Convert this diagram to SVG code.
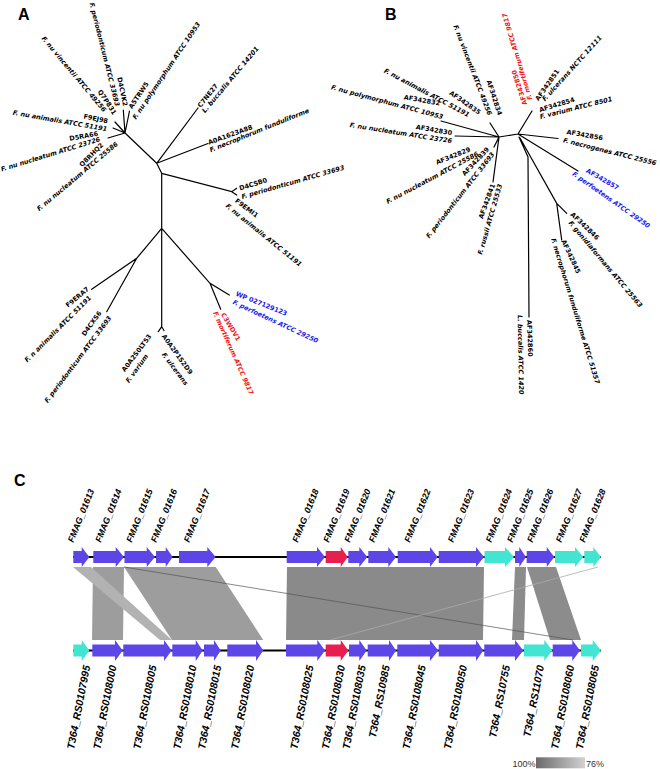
<svg xmlns="http://www.w3.org/2000/svg" width="660" height="769" viewBox="0 0 660 769">
<defs>
<linearGradient id="lg" x1="0" y1="0" x2="1" y2="0"><stop offset="0" stop-color="#6a6a6a"/><stop offset="1" stop-color="#d2d2d2"/></linearGradient>
</defs>
<style>
.e{stroke:#000;stroke-width:1.2;fill:none;stroke-linecap:round}
.t{font-family:"DejaVu Sans","Liberation Sans",sans-serif;font-size:6.5px;font-weight:bold;fill:#000}
.s{font-style:italic}
.bl{fill:#1a1af0}
.rd{fill:#f01414}
.pl{font-family:"Liberation Sans",Arial,sans-serif;font-size:16px;font-weight:bold;fill:#000}
.gt{font-family:"Liberation Sans",Arial,sans-serif;font-weight:bold;font-style:italic;fill:#000}
.top{font-size:9px}
.bot{font-size:10.5px}
.gb{fill:#5c46e8}
.gr{fill:#e81e50}
.gc{fill:#42e5d2}
.bb{stroke:#000;stroke-width:2}
.lg{font-family:"Liberation Sans",Arial,sans-serif;font-size:9px;fill:#333}
</style>
<rect width="660" height="769" fill="#fff"/>
<text class="pl" x="18" y="20">A</text>
<text class="pl" x="385" y="20">B</text>
<text class="pl" x="14" y="486">C</text>

<g id="connectors">
<path class="e" d="M125,133 L123.3,110 M125,133 L129.5,111 M125,133 L115,122 M125,133 L113,128 M125,133 L108,138 M125,133 L156.7,163.3 M156.7,163.3 L198,108 M156.7,163.3 L208,143.5 M156.7,163.3 L161.7,173.3 M161.7,173.3 L231.7,191.7 L236.7,188.3 M231.7,191.7 L236.7,195 M161.7,173.3 L161.7,228.3 M161.7,228.3 L136.7,258.3 L91.7,289.3 M136.7,258.3 L106.7,311.7 M161.7,228.3 L161.7,326.7 L158.3,331.7 M161.7,326.7 L164,330.5 M161.7,228.3 L210,283.3 L229.3,295 M210,283.3 L220.7,309.3"/>
<path class="e" d="M499,137 L518,134 M499,137 L441,121 M499,137 L490,123 M499,137 L455,136 M499,137 L494,147 M499,137 L493,182 M518,134 L532,111 M518,134 L558,138.5 M518,134 L578,171 M519,137 L528,157 L529,317 M520,138 L556.7,203.3 L566.7,213.3 M556.7,203.3 L561.7,240"/>
</g>

<g id="treeA">
<g id="a-C7NE27"><text class="t" transform="translate(199,106.7) rotate(-52)" y="2.3">C7NE27</text><text class="t s" transform="translate(203.3,111.7) rotate(-50)" y="2.3">L. buccalis ATCC 14201</text></g>
<g id="a-A0A1623A88"><text class="t" transform="translate(208.3,142.7) rotate(-20)" y="2.3">A0A1623A88</text><text class="t s" transform="translate(210,150) rotate(-22)" y="2.3">F. necrophorum funduliforme</text></g>
<g id="a-A5TRW5"><text class="t" transform="translate(130,108) rotate(-56)" y="2.3">A5TRW5</text><text class="t s" transform="translate(134,118.5) rotate(-56)" y="2.3">F. nu polymorphum ATCC 10953</text></g>
<g id="a-D4CVK2"><text class="t" text-anchor="end" transform="translate(125.5,106) rotate(78)" y="2.3">D4CVK2</text><text class="t s" text-anchor="end" transform="translate(117.5,106) rotate(76)" y="2.3">F. periodonticum ATCC 33693</text></g>
<g id="a-Q7P831"><text class="t" text-anchor="end" transform="translate(115,114) rotate(57)" y="2.3">Q7P831</text><text class="t s" text-anchor="end" transform="translate(105,111) rotate(50)" y="2.3">F. nu vincentii ATCC 49256</text></g>
<g id="a-F9EJ98"><text class="t" text-anchor="end" transform="translate(108,121) rotate(11)" y="2.3">F9EJ98</text><text class="t s" text-anchor="end" transform="translate(107,129) rotate(10)" y="2.3">F. nu animalis ATCC 51191</text></g>
<g id="a-D5RA66"><text class="t" text-anchor="end" transform="translate(98,133.5) rotate(-10)" y="2.3">D5RA66</text><text class="t s" text-anchor="end" transform="translate(100,139) rotate(-17)" y="2.3">F. nu nucleatum ATCC 23726</text></g>
<g id="a-Q8RHQ2"><text class="t" text-anchor="end" transform="translate(102,144) rotate(-45)" y="2.3">Q8RHQ2</text><text class="t s" text-anchor="end" transform="translate(117,143) rotate(-40)" y="2.3">F. nu nucleatum ATCC 25586</text></g>
<g id="a-D4CSB0"><text class="t" transform="translate(239.3,188.3) rotate(-17)" y="2.3">D4CSB0</text><text class="t s" transform="translate(241.7,196.7) rotate(-16)" y="2.3">F. periodonticum ATCC 33693</text></g>
<g id="a-F9EMI1"><text class="t" transform="translate(236,200) rotate(37)" y="2.3">F9EMI1</text><text class="t s" transform="translate(226.7,205) rotate(39)" y="2.3">F. nu animalis ATCC 51191</text></g>
<g id="a-F9ERA7"><text class="t" text-anchor="end" transform="translate(88,288) rotate(-40)" y="2.3">F9ERA7</text><text class="t s" text-anchor="end" transform="translate(90,296.7) rotate(-45)" y="2.3">F. n animalis ATCC 51191</text></g>
<g id="a-D4CXS6"><text class="t" text-anchor="end" transform="translate(100,311.7) rotate(-54)" y="2.3">D4CXS6</text><text class="t s" text-anchor="end" transform="translate(110,316.7) rotate(-53)" y="2.3">F. periodonticum ATCC 33693</text></g>
<g id="a-A0A2S0LT53"><text class="t" text-anchor="end" transform="translate(150,335) rotate(-53)" y="2.3">A0A2S0LT53</text><text class="t s" text-anchor="end" transform="translate(146.7,355) rotate(-54)" y="2.3">F. varium</text></g>
<g id="a-A0A2P1S2D9"><text class="t" transform="translate(163.3,335) rotate(54)" y="2.3">A0A2P1S2D9</text><text class="t s" transform="translate(163.3,353.3) rotate(53)" y="2.3">F. ulcerans</text></g>
<g id="a-WP027129123"><text class="t bl" transform="translate(236,293.3) rotate(22)" y="2.3">WP 027129123</text><text class="t s bl" transform="translate(233.3,301.7) rotate(25)" y="2.3">F. perfoetens ATCC 29250</text></g>
<g id="a-C3WDV1"><text class="t rd" transform="translate(222.7,313.3) rotate(59)" y="2.3">C3WDV1</text><text class="t s rd" transform="translate(215,311.7) rotate(66)" y="2.3">F. mortiferum ATCC 9817</text></g>
</g>

<g id="treeB">
<g id="b-AF342850"><text class="t rd" transform="translate(525,105) rotate(-108)" y="2.3">AF342850</text><text class="t s rd" transform="translate(530,100) rotate(-106.5)" y="2.3">F. mortiferum ATCC 9817</text></g>
<g id="b-AF342834"><text class="t" text-anchor="end" transform="translate(500,115) rotate(72)" y="2.3">AF342834</text><text class="t s" text-anchor="end" transform="translate(490,115) rotate(69)" y="2.3">F. nu vincentii ATCC 49256</text></g>
<g id="b-AF342835"><text class="t" text-anchor="end" transform="translate(480,113) rotate(35)" y="2.3">AF342835</text><text class="t s" text-anchor="end" transform="translate(469,115) rotate(28)" y="2.3">F. nu animalis ATCC 51191</text></g>
<g id="b-AF342832"><text class="t" text-anchor="end" transform="translate(440,103.3) rotate(10)" y="2.3">AF342832</text><text class="t s" text-anchor="end" transform="translate(443,117) rotate(15)" y="2.3">F. nu polymorphum ATCC 10953</text></g>
<g id="b-AF342830"><text class="t" text-anchor="end" transform="translate(452,133) rotate(10)" y="2.3">AF342830</text><text class="t s" text-anchor="end" transform="translate(452,141) rotate(9)" y="2.3">F. nu nucleatum ATCC 23726</text></g>
<g id="b-AF342829"><text class="t" text-anchor="end" transform="translate(470,149) rotate(-22)" y="2.3">AF342829</text><text class="t s" text-anchor="end" transform="translate(478,153.3) rotate(-28)" y="2.3">F. nu nucleatum ATCC 25586</text></g>
<g id="b-AF342839"><text class="t" text-anchor="end" transform="translate(488,148) rotate(-47)" y="2.3">AF342839</text><text class="t s" text-anchor="end" transform="translate(493,153) rotate(-52)" y="2.3">F. periodonticum ATCC 33693</text></g>
<g id="b-AF342841"><text class="t" text-anchor="end" transform="translate(493,184) rotate(-70)" y="2.3">AF342841</text><text class="t s" text-anchor="end" transform="translate(500,184) rotate(-74)" y="2.3">F. russii ATCC 25533</text></g>
<g id="b-AF342856"><text class="t" transform="translate(566.7,131.7) rotate(10)" y="2.3">AF342856</text><text class="t s" transform="translate(563.3,140) rotate(14)" y="2.3">F. necrogenes ATCC 25556</text></g>
<g id="b-AF342857"><text class="t bl" transform="translate(586.7,170) rotate(30)" y="2.3">AF342857</text><text class="t s bl" transform="translate(573,173) rotate(35)" y="2.3">F. perfoetens ATCC 29250</text></g>
<g id="b-AF342846"><text class="t" transform="translate(571.7,213.3) rotate(44)" y="2.3">AF342846</text><text class="t s" transform="translate(570,221.7) rotate(50)" y="2.3">F. gonidiaformans ATCC 25563</text></g>
<g id="b-AF342845"><text class="t" transform="translate(563.3,240) rotate(65)" y="2.3">AF342845</text><text class="t s" transform="translate(553.3,238.3) rotate(73)" y="2.3">F. necrophorum funduliforme ATCC 51357</text></g>
<g id="b-AF342860"><text class="t" transform="translate(529.3,320) rotate(88)" y="2.3">AF342860</text><text class="t s" transform="translate(520,315) rotate(89)" y="2.3">L. buccalis ATCC 1420</text></g>
<g id="b-AF342851"><text class="t" transform="translate(536.7,100) rotate(-55)" y="2.3">AF342851</text><text class="t s" transform="translate(543.3,100) rotate(-48)" y="2.3">F. ulcerans NCTC 12111</text></g>
<g id="b-AF342854"><text class="t" transform="translate(539.3,110) rotate(-17)" y="2.3">AF342854</text><text class="t s" transform="translate(540,116.7) rotate(-14)" y="2.3">F. varium ATCC 8501</text></g>
</g>

<g id="synteny">
<polygon points="93,567 124,567 123,640 92,640" fill="#9d9d9d"/>
<polygon points="124,567 215.7,567 263.3,640 172,640" fill="#9d9d9d"/>
<polygon points="73,567 91,567 172,640 160,640" fill="#b2b2b2"/>
<polygon points="287,567 484,567 483,640 286,640" fill="#8a8a8a"/>
<polygon points="515,567 526,567 524,640 512,640" fill="#8c8c8c"/>
<polygon points="527,567 556,567 581,640 550,640" fill="#8c8c8c"/>
<line x1="124" y1="567" x2="573" y2="640" stroke="#555" stroke-width="0.7"/>
<line x1="598" y1="567" x2="330" y2="640" stroke="#aaa" stroke-width="0.8"/>
</g>

<g id="genomeTop">
<line class="bb" x1="73" y1="557" x2="601" y2="557"/>
<path class="gb" d="M73.3,551H81.7V547L89.3,557L81.7,567V563H73.3Z"/>
<path class="gb" d="M93.3,551H115.7V547L124,557L115.7,567V563H93.3Z"/>
<path class="gb" d="M124.5,551H146.7V547L155,557L146.7,567V563H124.5Z"/>
<path class="gb" d="M156,551H165.7V547L172.7,557L165.7,567V563H156Z"/>
<path class="gb" d="M179,551H207.3V547L215.7,557L207.3,567V563H179Z"/>
<path class="gb" d="M286.7,551H317V547L325,557L317,567V563H286.7Z"/>
<path class="gr" d="M325.7,551H340.7V547L347.7,557L340.7,567V563H325.7Z"/>
<path class="gb" d="M348.3,551H359.3V547L367.3,557L359.3,567V563H348.3Z"/>
<path class="gb" d="M368.3,551H388.3V547L396,557L388.3,567V563H368.3Z"/>
<path class="gb" d="M397.7,551H430V547L437.7,557L430,567V563H397.7Z"/>
<path class="gb" d="M438.7,551H476V547L484,557L476,567V563H438.7Z"/>
<path class="gc" d="M484.5,551H505V547L514,557L505,567V563H484.5Z"/>
<path class="gb" d="M515,551H519.3V547L526,557L519.3,567V563H515Z"/>
<path class="gb" d="M526.7,551H546.7V547L554.3,557L546.7,567V563H526.7Z"/>
<path class="gc" d="M555,551H575V547L583.3,557L575,567V563H555Z"/>
<path class="gc" d="M584.3,551H593.3V547L601,557L593.3,567V563H584.3Z"/>
</g>
<g id="labelsTop" class="gt top">
<text transform="translate(73.3,543) rotate(-68)">FMAG_01613</text>
<text transform="translate(100.7,543) rotate(-68)">FMAG_01614</text>
<text transform="translate(131.8,543) rotate(-68)">FMAG_01615</text>
<text transform="translate(156.3,543) rotate(-68)">FMAG_01616</text>
<text transform="translate(189.3,543) rotate(-68)">FMAG_01617</text>
<text transform="translate(297.8,543) rotate(-68)">FMAG_01618</text>
<text transform="translate(328.7,543) rotate(-68)">FMAG_01619</text>
<text transform="translate(349.8,543) rotate(-68)">FMAG_01620</text>
<text transform="translate(374.2,543) rotate(-68)">FMAG_01621</text>
<text transform="translate(409.7,543) rotate(-68)">FMAG_01622</text>
<text transform="translate(453.3,543) rotate(-68)">FMAG_01623</text>
<text transform="translate(491.3,543) rotate(-68)">FMAG_01624</text>
<text transform="translate(512.5,543) rotate(-68)">FMAG_01625</text>
<text transform="translate(532.5,543) rotate(-68)">FMAG_01626</text>
<text transform="translate(561.2,543) rotate(-68)">FMAG_01627</text>
<text transform="translate(584.7,543) rotate(-68)">FMAG_01628</text>
</g>

<g id="genomeBottom">
<line class="bb" x1="73" y1="650.5" x2="601" y2="650.5"/>
<path class="gc" d="M73.3,644.5H81.7V640L89.3,650.5L81.7,661V656.5H73.3Z"/>
<path class="gb" d="M92.3,644.5H115V640L122.7,650.5L115,661V656.5H92.3Z"/>
<path class="gb" d="M123.3,644.5H164V640L171.7,650.5L164,661V656.5H123.3Z"/>
<path class="gb" d="M172.3,644.5H195.7V640L202.7,650.5L195.7,661V656.5H172.3Z"/>
<path class="gb" d="M204,644.5H214V640L220.7,650.5L214,661V656.5H204Z"/>
<path class="gb" d="M227.3,644.5H256V640L263.3,650.5L256,661V656.5H227.3Z"/>
<path class="gb" d="M286,644.5H317.3V640L325,650.5L317.3,661V656.5H286Z"/>
<path class="gr" d="M325.7,644.5H340.7V640L348.3,650.5L340.7,661V656.5H325.7Z"/>
<path class="gb" d="M349,644.5H359.3V640L366.7,650.5L359.3,661V656.5H349Z"/>
<path class="gb" d="M367.7,644.5H389V640L396,650.5L389,661V656.5H367.7Z"/>
<path class="gb" d="M397.3,644.5H430V640L438.3,650.5L430,661V656.5H397.3Z"/>
<path class="gb" d="M438.7,644.5H476V640L483.3,650.5L476,661V656.5H438.7Z"/>
<path class="gb" d="M484.3,644.5H515V640L523.3,650.5L515,661V656.5H484.3Z"/>
<path class="gc" d="M524,644.5H544.3V640L552.3,650.5L544.3,661V656.5H524Z"/>
<path class="gb" d="M552.7,644.5H572.3V640L580,650.5L572.3,661V656.5H552.7Z"/>
<path class="gc" d="M581,644.5H592.7V640L601,650.5L592.7,661V656.5H581Z"/>
</g>
<g id="labelsBottom" class="gt bot" text-anchor="end">
<text transform="translate(90.3,666) rotate(-79)">T364_RS0107995</text>
<text transform="translate(116.5,666) rotate(-79)">T364_RS0108000</text>
<text transform="translate(156.5,666) rotate(-79)">T364_RS0108005</text>
<text transform="translate(196.5,666) rotate(-79)">T364_RS0108010</text>
<text transform="translate(221.3,666) rotate(-79)">T364_RS0108015</text>
<text transform="translate(254.3,666) rotate(-79)">T364_RS0108020</text>
<text transform="translate(313.5,666) rotate(-79)">T364_RS0108025</text>
<text transform="translate(345,666) rotate(-79)">T364_RS0108030</text>
<text transform="translate(365.8,666) rotate(-79)">T364_RS0108035</text>
<text transform="translate(389.8,666) rotate(-79)">T364_RS10985</text>
<text transform="translate(425.8,666) rotate(-79)">T364_RS0108045</text>
<text transform="translate(467,666) rotate(-79)">T364_RS0108050</text>
<text transform="translate(510,666) rotate(-79)">T364_RS10755</text>
<text transform="translate(544.2,666) rotate(-79)">T364_RS11070</text>
<text transform="translate(574.3,666) rotate(-79)">T364_RS0108060</text>
<text transform="translate(599,666) rotate(-79)">T364_RS0108065</text>
</g>

<g id="legend">
<text class="lg" x="512.5" y="767">100%</text>
<rect x="536" y="757.3" width="49" height="11" fill="url(#lg)"/>
<text class="lg" x="586" y="767">76%</text>
</g>
</svg>
